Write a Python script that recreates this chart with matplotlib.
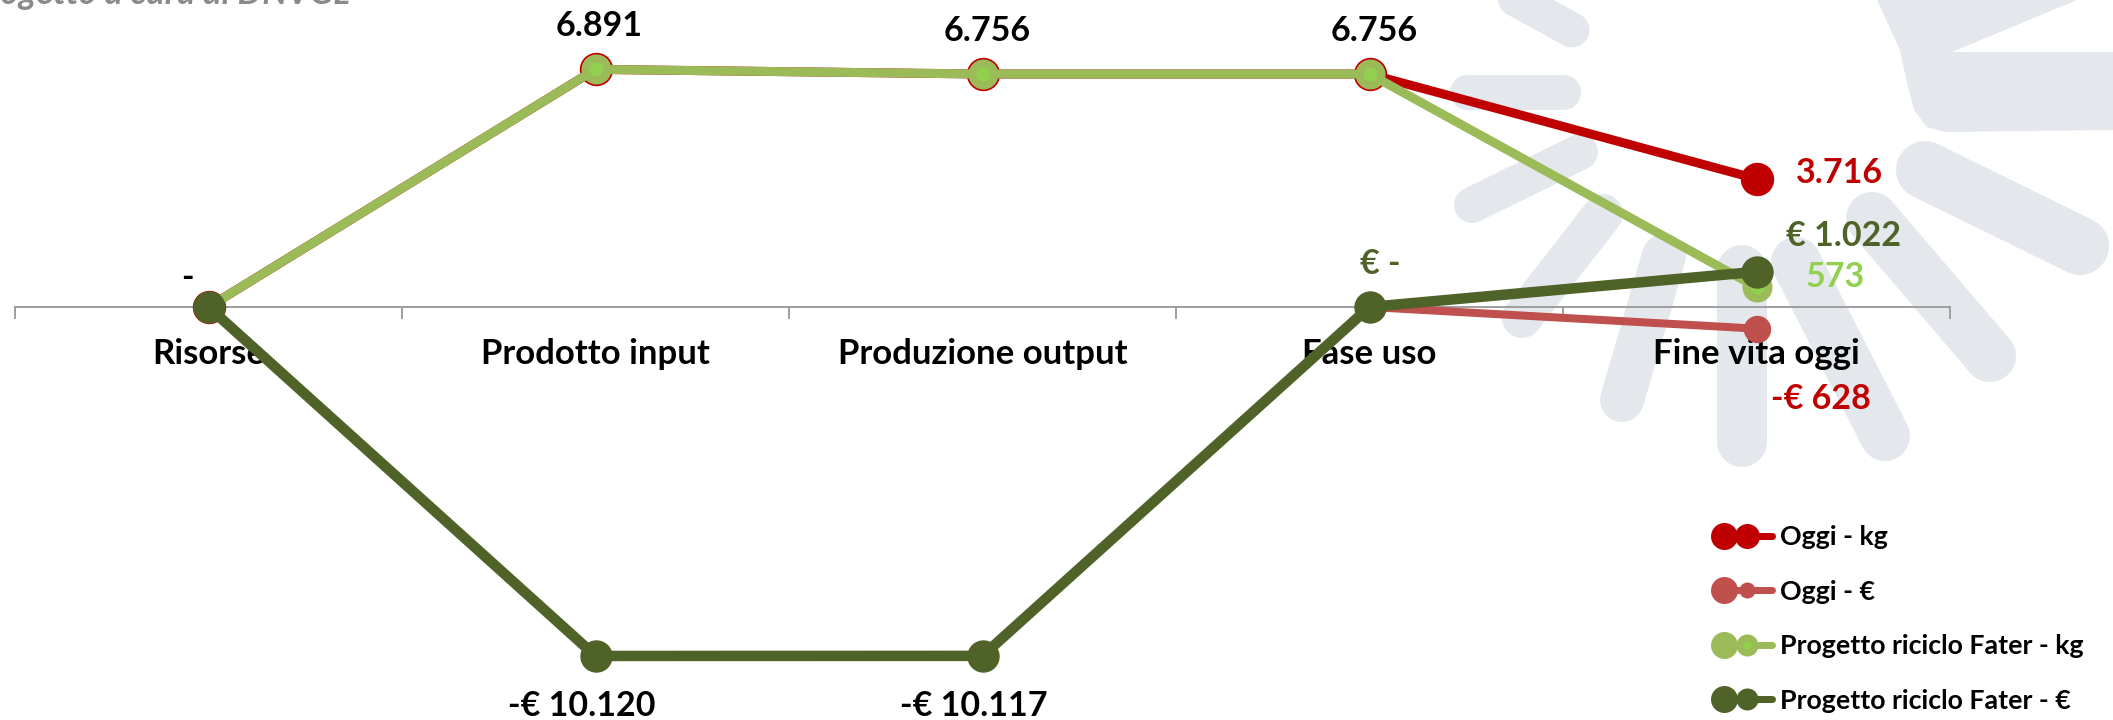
import matplotlib
matplotlib.use("Agg")
import matplotlib.pyplot as plt
from matplotlib.legend_handler import HandlerBase
from matplotlib.lines import Line2D
from matplotlib.patches import Polygon
import numpy as np

# ---------------- data ----------------
categories = ["Risorse", "Prodotto input", "Produzione output", "Fase uso", "Fine vita oggi"]
oggi_kg = [0, 6891, 6756, 6756, 3716]
oggi_eur = [0, -10120, -10117, 0, -628]
fater_kg = [0, 6891, 6756, 6756, 573]
fater_eur = [0, -10120, -10117, 0, 1022]
series_names = ["Oggi - kg", "Oggi - €", "Progetto riciclo Fater - kg", "Progetto riciclo Fater - €"]
title_text = "Progetto a cura di DNVGL"

W, H, DPI = 2113, 720, 100
PX = 72 / DPI  # pixel -> point


def fmt_kg(v):
    return "-" if v == 0 else f"{v:,}".replace(",", ".")


def fmt_eur(v):
    if v == 0:
        return "€ -"
    s = f"{abs(v):,}".replace(",", ".")
    return f"-€ {s}" if v < 0 else f"€ {s}"


plt.rcParams['font.family'] = ['Lato', 'DejaVu Sans']
fig = plt.figure(figsize=(W / DPI, H / DPI), dpi=DPI)
fig.patch.set_facecolor('white')

# ---------------- background logo (decoration) ----------------
bg = fig.add_axes([0, 0, 1, 1], zorder=0)
bg.set_xlim(0, W)
bg.set_ylim(H, 0)
bg.axis('off')
logo = '#E4E8EC'
rays = [
    ((1490, -15), (1572, 30), 35),
    ((1467, 92), (1563, 92), 35),
    ((1472, 205), (1580, 152), 36),
    ((1522, 318), (1603, 214), 40),
    ((1622, 400), (1664, 256), 44),
    ((1742, 442), (1742, 270), 50),
    ((1885, 436), (1796, 262), 50),
    ((1990, 356), (1872, 218), 52),
    ((2080, 246), (1925, 170), 58),
]
for (x0, y0), (x1, y1), t in rays:
    bg.plot([x0, x1], [y0, y1], color=logo, lw=t * PX, solid_capstyle='round')
bg.add_patch(Polygon([(1877, 0), (2077, 0), (1952, 52), (2113, 52), (2113, 130),
                      (1945, 132), (1927, 127), (1914, 110), (1907, 83), (1900, 50)],
                     closed=True, fc=logo, ec='none'))

# ---------------- main axes ----------------
ax = fig.add_axes([15 / W, 0, 1935 / W, 1], zorder=1)
ax.patch.set_alpha(0)
S = 29.0  # value units per pixel
AX_Y = 307
ax.set_xlim(-0.5, 4.5)
ax.set_ylim(-(H - AX_Y) * S, AX_Y * S)

x = np.arange(len(categories))
c_red = '#C00000'
c_red2 = '#C0504D'
c_lg = '#9BBB59'
c_lg_in = '#92D050'
c_olive = '#4F6228'

l1, = ax.plot(x, oggi_kg, color=c_red, lw=9 * PX, marker='o', ms=32 * PX, mfc=c_red, mec=c_red,
              solid_capstyle='round', label=series_names[0], zorder=3)
l2, = ax.plot(x, oggi_eur, color=c_red2, lw=8 * PX, marker='o', ms=26 * PX, mfc=c_red2, mec=c_red2,
              solid_capstyle='round', label=series_names[1], zorder=4)
l3, = ax.plot(x, fater_kg, color=c_lg, lw=9 * PX, marker='o', ms=22 * PX, mfc=c_lg_in, mec=c_lg,
              mew=8 * PX, solid_capstyle='round', label=series_names[2], zorder=5)
l4, = ax.plot(x, fater_eur, color=c_olive, lw=10.5 * PX, marker='o', ms=31 * PX, mfc=c_olive, mec=c_olive,
              solid_capstyle='round', label=series_names[3], zorder=6)

# axis styling
for s in ['top', 'right', 'left']:
    ax.spines[s].set_visible(False)
ax.spines['bottom'].set_position(('data', 0))
ax.spines['bottom'].set_color('#A0A0A0')
ax.spines['bottom'].set_linewidth(2 * PX)
ax.set_yticks([])
ax.set_xticks(x)
ax.set_xticklabels(categories, fontsize=25, fontweight='bold', color='black')
ax.tick_params(axis='x', which='major', length=0, pad=22)
ax.set_xticks(np.arange(-0.5, 4.6, 1.0), minor=True)
ax.tick_params(axis='x', which='minor', length=12 * PX, width=2 * PX, color='#A0A0A0', direction='out')

# ---------------- data labels ----------------
# (values, index, formatter, color, ha, dx_px, dy_px (baseline, +down))
labels = [
    (fater_kg, 0, fmt_kg, 'black', 'center', -21, -19),
    (fater_kg, 1, fmt_kg, 'black', 'center', 4, -33),
    (fater_kg, 2, fmt_kg, 'black', 'center', 5, -33),
    (fater_kg, 3, fmt_kg, 'black', 'center', 5, -33),
    (fater_kg, 4, fmt_kg, c_lg_in, 'left', 49, 0),
    (oggi_kg, 4, fmt_kg, c_red, 'left', 39, 4),
    (fater_eur, 1, fmt_eur, 'black', 'center', -14, 60),
    (fater_eur, 2, fmt_eur, 'black', 'center', -9, 60),
    (fater_eur, 3, fmt_eur, c_olive, 'center', 11, -33),
    (fater_eur, 4, fmt_eur, c_olive, 'left', 29, -26),
    (oggi_eur, 4, fmt_eur, c_red, 'left', 14, 80),
]
for vals, i, f, col, ha, dx, dy in labels:
    ax.annotate(f(vals[i]), (x[i], vals[i]), xytext=(dx * PX, -dy * PX), textcoords='offset points',
                ha=ha, va='baseline', fontsize=24.5, fontweight='bold', color=col, zorder=10,
                annotation_clip=False)


# ---------------- legend ----------------
class TwoDot(HandlerBase):
    def __init__(self, small_ms, small_mew=0.0, big_ms=27):
        super().__init__()
        self.small_ms = small_ms
        self.small_mew = small_mew
        self.big_ms = big_ms

    def create_artists(self, legend, orig, xdescent, ydescent, width, height, fontsize, trans):
        y = (height - ydescent) / 2
        x0 = -xdescent
        col = orig.get_color()
        xa, xb = x0 + 0.2 * width, x0 + 0.58 * width
        line = Line2D([xa, x0 + width], [y, y], color=col, lw=7 * PX, solid_capstyle='round')
        m1 = Line2D([xa], [y], ls='none', marker='o', ms=self.big_ms * PX, mfc=col, mec=col, mew=0)
        m2 = Line2D([xb], [y], ls='none', marker='o', ms=self.small_ms * PX,
                    mfc=orig.get_markerfacecolor(), mec=orig.get_markeredgecolor(),
                    mew=self.small_mew * PX)
        for a in (line, m1, m2):
            a.set_transform(trans)
        return [line, m1, m2]


handles, labs = ax.get_legend_handles_labels()
hmap = {l1: TwoDot(25), l2: TwoDot(16), l3: TwoDot(15, 7), l4: TwoDot(22)}
LEG_FS = 19.3
fs_px = LEG_FS / PX
leg = ax.legend(handles, labs, loc='upper left', bbox_to_anchor=(1712 / W, 1 - 525 / H),
                bbox_transform=fig.transFigure, frameon=False, borderpad=0, borderaxespad=0,
                handlelength=60 / fs_px, handletextpad=8 / fs_px, labelspacing=1.14,
                prop={'family': ['Lato', 'DejaVu Sans'], 'weight': 'bold', 'size': LEG_FS},
                handler_map=hmap)

# ---------------- title (cut at top) ----------------
fig.text(350 / W, 1 - 4 / H, title_text, ha='right', va='baseline', fontsize=25,
         fontweight='bold', fontstyle='italic', color='#8A8A8A')

fig.savefig('out.png', dpi=DPI, facecolor='white')
